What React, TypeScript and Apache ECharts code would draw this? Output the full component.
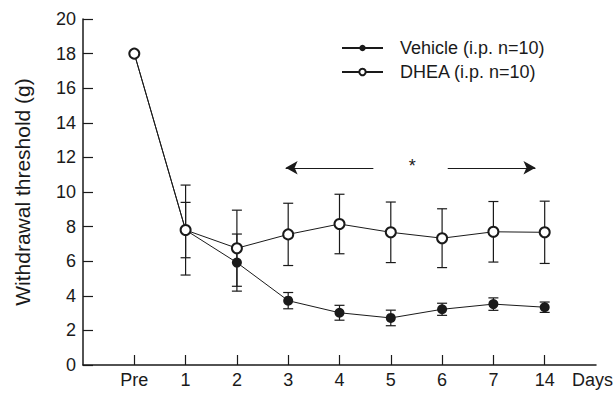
import React, { useEffect, useRef } from "react";
import * as echarts from "echarts";

const dayLabels = ["Pre", "1", "2", "3", "4", "5", "6", "7", "14"];
const dayPositions = [1, 2, 3, 4, 5, 6, 7, 8, 9];
const vehicleMean = [18, 7.8, 5.92, 3.72, 3.02, 2.72, 3.22, 3.52, 3.34];
const vehicleErr = [0, 1.6, 1.65, 0.47, 0.43, 0.45, 0.35, 0.36, 0.3];
const dheaMean = [18, 7.8, 6.75, 7.55, 8.15, 7.67, 7.33, 7.7, 7.67];
const dheaErr = [0, 2.6, 2.2, 1.8, 1.72, 1.75, 1.7, 1.75, 1.8];
const yTicks = [0, 20, 2];
const arrowY = 11.4;
const leftArrow = [3.95, 5.66];
const rightArrow = [7.11, 8.82];
const starPos = [6.42, 11.5];

const FONT = "'Liberation Sans', Arial, Helvetica, sans-serif";
const INK = "#1a1a1a";

export default function App() {
  const ref = useRef<HTMLDivElement>(null);
  useEffect(() => {
    if (!ref.current) return;
    document.body.style.margin = "0";
    document.body.style.overflow = "hidden";
    const chart = echarts.init(ref.current, undefined, { renderer: "svg" });
    const errData = (means: number[], errs: number[]) =>
      dayPositions
        .map((x, i) => [x, means[i] - errs[i], means[i] + errs[i]])
        .filter((d, i) => errs[i] > 0);
    const errSeries = (name: string, means: number[], errs: number[]) => ({
      type: "custom",
      name: name + "_err",
      z: 1,
      silent: true,
      data: errData(means, errs),
      renderItem: (params: any, api: any) => {
        const x = api.value(0);
        const top = api.coord([x, api.value(2)]);
        const bot = api.coord([x, api.value(1)]);
        const w = 5;
        const st = { stroke: INK, lineWidth: 1.2 };
        return {
          type: "group",
          children: [
            { type: "line", shape: { x1: top[0], y1: top[1], x2: bot[0], y2: bot[1] }, style: st },
            { type: "line", shape: { x1: top[0] - w, y1: top[1], x2: top[0] + w, y2: top[1] }, style: st },
            { type: "line", shape: { x1: bot[0] - w, y1: bot[1], x2: bot[0] + w, y2: bot[1] }, style: st },
          ],
        };
      },
    });
    const option: any = {
      animation: false,
      backgroundColor: "#fff",
      grid: { left: 83, right: 14, top: 19, bottom: 32, containLabel: false },
      legend: {
        orient: "vertical",
        left: 336,
        top: 34,
        itemWidth: 41,
        itemHeight: 8,
        itemGap: 6,
        data: ["Vehicle (i.p. n=10)", "DHEA (i.p. n=10)"],
        textStyle: { fontFamily: FONT, fontSize: 18, color: INK, padding: [0, 0, 0, 12] },
      },
      xAxis: {
        type: "value",
        min: 0,
        max: 10,
        interval: 1,
        name: "Days",
        nameLocation: "end",
        nameGap: -24,
        nameTextStyle: { fontFamily: FONT, fontSize: 18, color: INK, verticalAlign: "top", padding: [6, 0, 0, 0] },
        axisLine: { lineStyle: { color: INK, width: 1.5 } },
        axisTick: { inside: true, length: 10, lineStyle: { color: INK, width: 1.2 }, customValues: dayPositions },
        axisLabel: {
          customValues: dayPositions,
          margin: 6,
          fontFamily: FONT,
          fontSize: 18,
          color: INK,
          formatter: (v: number) => {
            const i = dayPositions.indexOf(Math.round(v));
            return i >= 0 ? dayLabels[i] : "";
          },
        },
        splitLine: { show: false },
      },
      yAxis: {
        type: "value",
        min: yTicks[0],
        max: yTicks[1],
        interval: yTicks[2],
        name: "Withdrawal threshold (g)",
        nameLocation: "middle",
        nameGap: 50,
        nameTextStyle: { fontFamily: FONT, fontSize: 21, color: INK },
        axisLine: { show: true, lineStyle: { color: INK, width: 1.5 } },
        axisTick: { show: true, inside: true, length: 10, lineStyle: { color: INK, width: 1.2 } },
        axisLabel: { margin: 7, fontFamily: FONT, fontSize: 18, color: INK },
        splitLine: { show: false },
      },
      series: [
        errSeries("Vehicle", vehicleMean, vehicleErr),
        errSeries("DHEA", dheaMean, dheaErr),
        {
          type: "line",
          name: "Vehicle (i.p. n=10)",
          z: 3,
          data: dayPositions.map((x, i) => [x, vehicleMean[i]]),
          symbol: "circle",
          symbolSize: 10,
          itemStyle: { color: INK },
          lineStyle: { color: INK, width: 1 },
        },
        {
          type: "line",
          name: "DHEA (i.p. n=10)",
          z: 4,
          data: dayPositions.map((x, i) => [x, dheaMean[i]]),
          symbol: "emptyCircle",
          symbolSize: 10,
          itemStyle: { color: INK, borderColor: INK, borderWidth: 1.1 },
          lineStyle: { color: INK, width: 1 },
          markLine: {
            silent: true,
            symbolSize: [10, 12],
            lineStyle: { color: INK, width: 1.2, type: "solid" },
            label: { show: false },
            data: [
              [
                { coord: [leftArrow[0], arrowY], symbol: "arrow" },
                { coord: [leftArrow[1], arrowY], symbol: "none" },
              ],
              [
                { coord: [rightArrow[0], arrowY], symbol: "none" },
                { coord: [rightArrow[1], arrowY], symbol: "arrow" },
              ],
            ],
          },
          markPoint: {
            silent: true,
            symbol: "circle",
            symbolSize: 0,
            label: { show: true, formatter: "*", fontFamily: FONT, fontSize: 18, color: INK, position: "inside" },
            data: [{ coord: starPos }],
          },
        },
      ],
    };
    chart.setOption(option);
    return () => chart.dispose();
  }, []);
  return <div ref={ref} style={{ width: 616, height: 397 }} />;
}
